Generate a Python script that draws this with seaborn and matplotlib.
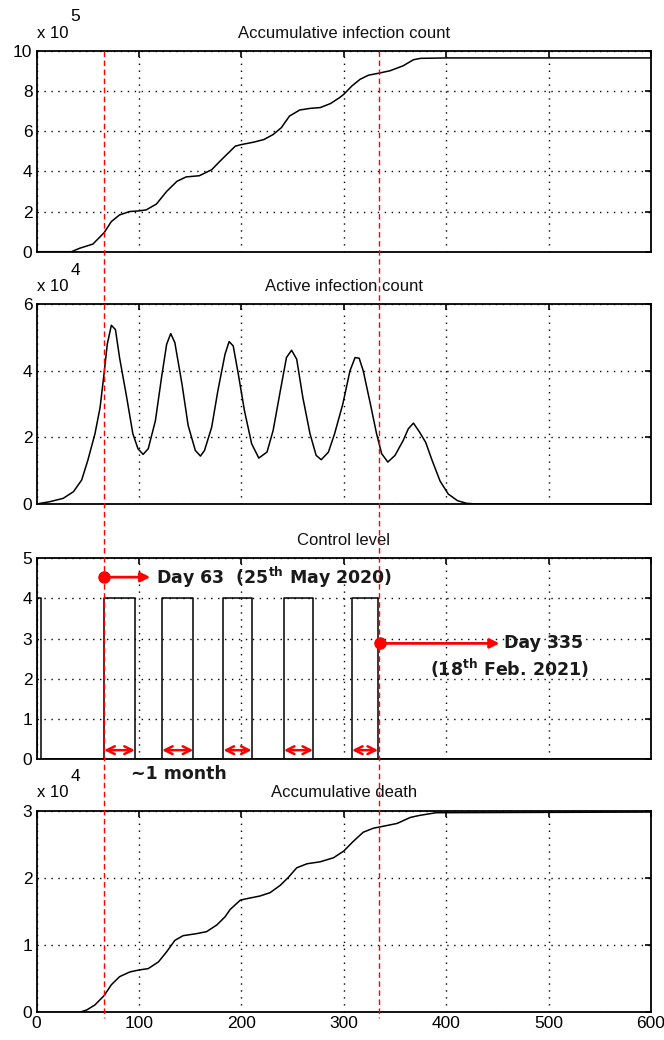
import numpy as np
import pandas as pd
import matplotlib
matplotlib.use("Agg")
import matplotlib.pyplot as plt
import matplotlib.transforms as mtransforms
from matplotlib import font_manager
import seaborn as sns

# ---------------- data ----------------
days_inf = [0, 34, 42, 55, 66, 73, 81, 91, 100, 107, 117, 127, 137, 146, 159, 171, 180,
            189, 194, 200, 212, 222, 231, 239, 247, 257, 267, 277, 287, 296, 300, 308,
            316, 324, 334, 345, 358, 368, 375, 400, 600]
infections = [0, 0, 0.17, 0.38, 0.95, 1.5, 1.83, 2.0, 2.03, 2.08, 2.37, 3.0, 3.5, 3.72, 3.78,
              4.08, 4.55, 5.0, 5.25, 5.33, 5.45, 5.58, 5.83, 6.17, 6.75, 7.05, 7.13, 7.17,
              7.37, 7.67, 7.83, 8.25, 8.58, 8.78, 8.88, 9.0, 9.25, 9.55, 9.62, 9.64, 9.64]  # x 1e5

days_act = [0, 13, 26, 36, 44, 50, 57, 62, 66, 69, 73, 77, 81, 88, 94, 99, 104, 109, 116,
            122, 127, 131, 135, 142, 148, 155, 160, 164, 171, 177, 184, 188, 192, 197, 203,
            210, 217, 225, 231, 238, 244, 249, 254, 260, 267, 273, 278, 285, 291, 299, 306,
            311, 315, 319, 326, 332, 337, 343, 350, 358, 363, 368, 374, 380, 386, 394, 402,
            411, 420, 430, 600]
active = [0, 0.07, 0.17, 0.37, 0.72, 1.31, 2.11, 2.9, 3.95, 4.8, 5.37, 5.24, 4.4, 3.2, 2.11,
          1.66, 1.49, 1.66, 2.5, 3.8, 4.8, 5.12, 4.85, 3.6, 2.36, 1.61, 1.44, 1.61, 2.31,
          3.4, 4.5, 4.88, 4.75, 3.9, 2.8, 1.81, 1.38, 1.56, 2.21, 3.4, 4.4, 4.62, 4.35, 3.2,
          2.11, 1.46, 1.33, 1.56, 2.11, 3.0, 4.0, 4.4, 4.38, 4.0, 3.0, 2.11, 1.51, 1.26, 1.46,
          1.91, 2.26, 2.43, 2.16, 1.85, 1.33, 0.69, 0.3, 0.1, 0.02, 0, 0]  # x 1e4

ctrl_on = [0, 66, 122.5, 182.5, 241.5, 308]
ctrl_off = [4, 96, 153, 210, 270, 333.5]
ctrl_level = 4

days_d = [0, 42, 49, 57, 66, 73, 81, 91, 100, 109, 119, 127, 135, 143, 156, 166, 176, 184,
          189, 199, 205, 218, 228, 238, 246, 254, 264, 277, 290, 300, 309, 319, 329, 339,
          352, 365, 374, 390, 600]
deaths = [0, 0, 0.035, 0.11, 0.25, 0.41, 0.53, 0.6, 0.63, 0.65, 0.75, 0.9, 1.07, 1.14, 1.17,
          1.2, 1.3, 1.42, 1.53, 1.67, 1.69, 1.73, 1.78, 1.89, 2.01, 2.15, 2.21, 2.24, 2.3,
          2.4, 2.54, 2.68, 2.74, 2.77, 2.81, 2.9, 2.93, 2.97, 2.98]  # x 1e4

marker_days = [66, 334]
titles = ["Accumulative infection count", "Active infection count", "Control level",
          "Accumulative death"]
exponents = ["5", "4", None, "4"]
yticks = [[0, 2, 4, 6, 8, 10], [0, 2, 4, 6], [0, 1, 2, 3, 4, 5], [0, 1, 2, 3]]
xticks = [0, 100, 200, 300, 400, 500, 600]

# ---------------- style ----------------
sns.set_theme(style="white")
avail = {f.name for f in font_manager.fontManager.ttflist}
narrow = "Liberation Sans Narrow" if "Liberation Sans Narrow" in avail else "Liberation Sans"
plt.rcParams["font.family"] = [narrow, "DejaVu Sans"]
bold_family = "Noto Sans CJK KR" if "Noto Sans CJK KR" in avail else "DejaVu Sans"
plt.rcParams["mathtext.fontset"] = "custom"
plt.rcParams["mathtext.bf"] = bold_family + ":bold"
plt.rcParams["mathtext.rm"] = bold_family

fig = plt.figure(figsize=(6.64, 10.4), dpi=100)
W, H = 664, 1040
left, width = 36.6 / W, 614.4 / W
panels_px = [(50.7, 251.7), (304.3, 504.0), (558.3, 759.0), (810.7, 1012.3)]
axes = []
for top, bot in panels_px:
    axes.append(fig.add_axes([left, 1 - bot / H, width, (bot - top) / H]))

# control-level step series built from on/off lists
cx, cy = [], []
for a, b in zip(ctrl_on, ctrl_off):
    cx += [a, a, b, b]
    cy += [0, ctrl_level, ctrl_level, 0]
cx.append(600)
cy.append(0)

series = [
    pd.DataFrame({"day": days_inf, "v": infections}),
    pd.DataFrame({"day": days_act, "v": active}),
    pd.DataFrame({"day": cx, "v": cy}),
    pd.DataFrame({"day": days_d, "v": deaths}),
]

tick_fs = 12.5
for i, ax in enumerate(axes):
    sns.lineplot(data=series[i], x="day", y="v", ax=ax, color="black", lw=1.1,
                 estimator=None, sort=False)
    ax.set_xlim(0, 600)
    ax.set_ylim(yticks[i][0], yticks[i][-1])
    ax.set_xticks(xticks)
    ax.set_yticks(yticks[i])
    ax.set_xlabel("")
    ax.set_ylabel("")
    ax.grid(True, color="black", linestyle=(0, (1, 4)), linewidth=1.0)
    for s in ax.spines.values():
        s.set_color("black")
        s.set_linewidth(1.3)
    ax.tick_params(direction="in", top=True, right=True, length=4, width=1.2,
                   labelsize=tick_fs, pad=3, colors="black")
    if i < 3:
        ax.tick_params(labelbottom=False)
    ax.text(0.5, 1.088, titles[i], transform=ax.transAxes, ha="center", va="center",
            fontsize=12, color="#111111")
    if exponents[i]:
        ax.text(0.0, 1.088, "x 10", transform=ax.transAxes, ha="left", va="center",
                fontsize=12, color="black")
        ax.text(0.0625, 1.168, exponents[i], transform=ax.transAxes, ha="center",
                va="center", fontsize=12.5, color="black")

# red dashed marker lines spanning all panels
trans = mtransforms.blended_transform_factory(axes[3].transData, fig.transFigure)
for d in marker_days:
    fig.add_artist(plt.Line2D([d, d], [1 - 51 / H, 1 - 1018 / H], transform=trans,
                              color="red", lw=1.0, linestyle=(0, (4, 2.5))))

# annotations on control level panel
ax = axes[2]
red = "#ff0000"
txt = dict(fontsize=12.5, fontweight="bold", family=bold_family, color="#1a1a1a")
ax.plot([marker_days[0]], [4.53], "o", color=red, ms=8, clip_on=False, zorder=5)
ax.annotate("", xy=(111, 4.53), xytext=(marker_days[0], 4.53),
            arrowprops=dict(arrowstyle="-|>", color=red, lw=2, mutation_scale=14,
                            shrinkA=0, shrinkB=0))
ax.text(117, 4.53, r"Day 63  (25$^{\mathbf{th}}$ May 2020)", ha="left", va="center", **txt)
ax.plot([335], [2.88], "o", color=red, ms=8, zorder=5)
ax.annotate("", xy=(452, 2.88), xytext=(335, 2.88),
            arrowprops=dict(arrowstyle="-|>", color=red, lw=2, mutation_scale=14,
                            shrinkA=0, shrinkB=0))
ax.text(456, 2.88, "Day 335", ha="left", va="center", **txt)
ax.text(462, 2.26, r"(18$^{\mathbf{th}}$ Feb. 2021)", ha="center", va="center", **txt)
for a, b in zip(ctrl_on[1:], ctrl_off[1:]):
    ax.annotate("", xy=(b, 0.22), xytext=(a, 0.22),
                arrowprops=dict(arrowstyle="<->", color=red, lw=1.8, mutation_scale=14,
                                shrinkA=0, shrinkB=0))
ax.text(139, -0.38, "~1 month", ha="center", va="center", clip_on=False, **txt)

fig.savefig("out.png", dpi=100)
